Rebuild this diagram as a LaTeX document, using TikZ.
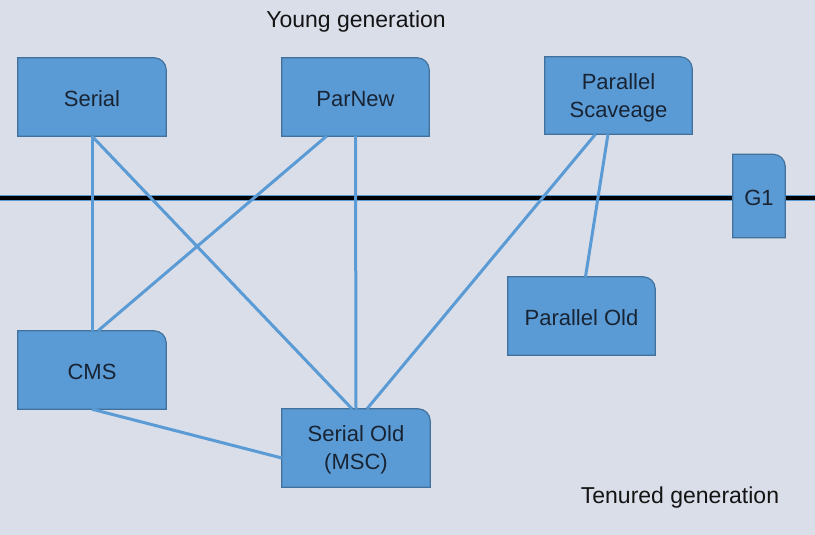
\documentclass[tikz,border=0pt]{standalone}
\usepackage{fontspec}
\setmainfont{Liberation Sans}
\usetikzlibrary{backgrounds}
\definecolor{bgslate}{RGB}{217,222,233}
\definecolor{tileblue}{RGB}{91,155,213}
\definecolor{tileedge}{RGB}{65,113,156}
\definecolor{tiletext}{RGB}{24,36,52}

\begin{document}
\begin{tikzpicture}[x=1pt,y=-1pt,
tile/.style={minimum width=148pt,minimum height=78pt,inner sep=0pt,align=center,text=tiletext,font=\fontsize{22}{28}\selectfont},
tileface/.style={fill=tileblue,draw=tileedge,line width=1.2pt},
link/.style={draw=tileblue,line width=3pt},
gen/.style={font=\fontsize{23}{27}\selectfont,text=black!92}]

\useasboundingbox(0,0)rectangle(815,535);
\node[gen](young)at(356,22){Young generation};
\node[gen](tenured)at(680,498){Tenured generation};

\node[tile](serial)at(92,99){Serial};
\node[tile,minimum width=147pt](parnew)at(355.5,99){ParNew};
\node[tile,minimum width=147pt,minimum height=77pt](parscav)at(618.5,97.5){Parallel\\Scaveage};
\node[tile,minimum width=52pt,minimum height=83pt](g1)at(759,198){G1};
\node[tile,minimum width=147pt](parold)at(581.5,318){Parallel Old};
\node[tile](cms)at(92,372){CMS};
\node[tile](serold)at(356,450){Serial Old\\(MSC)};

\coordinate(railw)at(0,198);
\coordinate(raile)at(815,198);

% background, divider and box shapes
\begin{scope}[on background layer]
\fill[bgslate](0,0)rectangle(815,535);
\draw[tileblue,line width=6.5pt](railw)--(raile);
\draw[black,line width=4.5pt](railw)--(raile);
\foreach \n in {serial,parnew,parscav,g1,parold,cms,serold}{
\draw[tileface]([yshift=2pt]\n.south west)--([yshift=2pt]\n.north west)--([xshift=-12pt,yshift=2pt]\n.north east)arc[start angle=90,end angle=0,radius=12pt]--([yshift=2pt]\n.south east)--cycle;}
\end{scope}

\draw[link]([yshift=2pt]serial.south)--([yshift=2pt]cms.north);
\draw[link]([yshift=2pt]serial.south)--([xshift=-4pt,yshift=2pt]serold.north);
\draw[link]([xshift=-29pt,yshift=2pt]parnew.south)--([xshift=6pt,yshift=2pt]cms.north);
\draw[link]([yshift=2pt]parnew.south)--([yshift=2pt]serold.north);
\draw[link]([xshift=-23pt,yshift=2pt]parscav.south)--([xshift=11pt,yshift=2pt]serold.north);
\draw[link]([xshift=-10.5pt,yshift=2pt]parscav.south)--([xshift=4pt,yshift=2pt]parold.north);
\draw[link]([yshift=2pt]cms.south)--([yshift=-8pt]serold.west);
\end{tikzpicture}
\end{document}
